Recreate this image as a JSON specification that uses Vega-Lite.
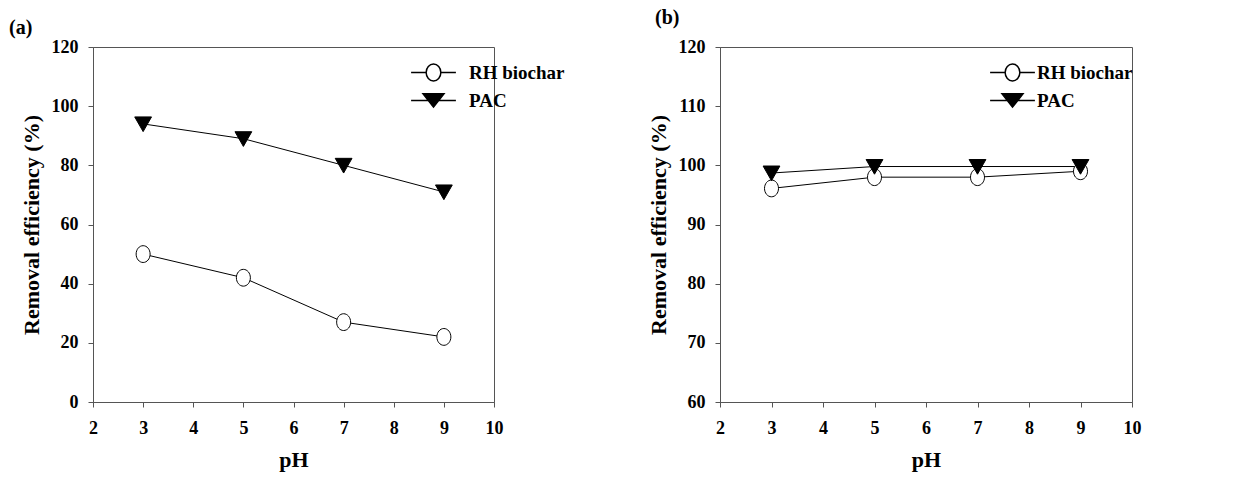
{
  "$schema": "https://vega.github.io/schema/vega-lite/v6.json",
  "padding": {"left": 8, "top": 7, "right": 5, "bottom": 5},
  "background": "white",
  "datasets": {
    "a": [
      {"series": "RH biochar", "pH": 3, "removal": 50},
      {"series": "RH biochar", "pH": 5, "removal": 42},
      {"series": "RH biochar", "pH": 7, "removal": 27},
      {"series": "RH biochar", "pH": 9, "removal": 22},
      {"series": "PAC", "pH": 3, "removal": 94},
      {"series": "PAC", "pH": 5, "removal": 89},
      {"series": "PAC", "pH": 7, "removal": 80},
      {"series": "PAC", "pH": 9, "removal": 71}
    ],
    "b": [
      {"series": "RH biochar", "pH": 3, "removal": 96.1},
      {"series": "RH biochar", "pH": 5, "removal": 98},
      {"series": "RH biochar", "pH": 7, "removal": 98},
      {"series": "RH biochar", "pH": 9, "removal": 99},
      {"series": "PAC", "pH": 3, "removal": 98.7},
      {"series": "PAC", "pH": 5, "removal": 99.8},
      {"series": "PAC", "pH": 7, "removal": 99.8},
      {"series": "PAC", "pH": 9, "removal": 99.8}
    ]
  },
  "spacing": 80,
  "hconcat": [
    {
      "width": 401,
      "height": 355,
      "title": {"text": "(a)", "anchor": "start", "frame": "group", "dx": -84, "offset": 0, "fontSize": 20, "font": "Liberation Serif", "fontWeight": "bold", "color": "black"},
      "data": {"name": "a"},
      "resolve": {"scale": {"shape": "independent", "fill": "independent"}},
      "layer": [
        {
          "mark": {"type": "line", "color": "black", "strokeWidth": 1},
          "encoding": {
            "x": {"field": "pH", "type": "quantitative", "scale": {"domain": [2, 10], "nice": false}, "axis": {"values": [2,3,4,5,6,7,8,9,10], "title": "pH"}},
            "y": {"field": "removal", "type": "quantitative", "scale": {"domain": [0, 120], "nice": false}, "axis": {"values": [0,20,40,60,80,100,120], "title": "Removal efficiency (%)"}},
            "detail": {"field": "series"}
          }
        },
        {
          "mark": {"type": "point", "filled": true, "stroke": "black", "strokeWidth": 1, "opacity": 1, "size": 196},
          "encoding": {
            "x": {"field": "pH", "type": "quantitative"},
            "y": {"field": "removal", "type": "quantitative"},
            "shape": {"field": "series", "type": "nominal", "scale": {"domain": ["RH biochar", "PAC"], "range": ["M1,0A1,1.2,0,1,1,-1,0A1,1.2,0,1,1,1,0Z", "M-1.2,-1L1.2,-1L0,1.1Z"]}, "legend": null},
            "fill": {"field": "series", "type": "nominal", "scale": {"domain": ["RH biochar", "PAC"], "range": ["white", "black"]}, "legend": null}
          }
        },
        {
          "mark": {"type": "point", "filled": true, "stroke": "black", "strokeWidth": 1, "opacity": 0},
          "encoding": {
            "x": {"field": "pH", "type": "quantitative"},
            "y": {"field": "removal", "type": "quantitative"},
            "shape": {"field": "series", "type": "nominal", "scale": {"domain": ["RH biochar", "PAC"], "range": ["M-3.2,0L-1.05,0M1.05,0L3.2,0M1.05,0A1.05,1.2,0,1,1,-1.05,0A1.05,1.2,0,1,1,1.05,0Z", "M-3.2,0L3.2,0M-1.5,-0.95L1.5,-0.95L0,0.95Z"]},
              "legend": {"title": null, "orient": "none", "legendX": 331, "legendY": 16, "symbolSize": 196, "symbolOpacity": 1, "labelOffset": 26, "rowPadding": 6, "labelFont": "Liberation Serif", "labelFontWeight": "bold", "labelFontSize": 19, "labelColor": "black",
                "encode": {"symbols": {"update": {"stroke": {"value": "black"}, "strokeWidth": {"value": 1}, "opacity": {"value": 1}}}}}},
            "fill": {"field": "series", "type": "nominal", "scale": {"domain": ["RH biochar", "PAC"], "range": ["white", "black"]},
              "legend": {"title": null, "orient": "none", "legendX": 331, "legendY": 16, "symbolSize": 196, "symbolOpacity": 1, "labelOffset": 26, "rowPadding": 6, "labelFont": "Liberation Serif", "labelFontWeight": "bold", "labelFontSize": 19, "labelColor": "black",
                "encode": {"symbols": {"update": {"stroke": {"value": "black"}, "strokeWidth": {"value": 1}, "opacity": {"value": 1}}}}}}
          }
        }
      ]
    },
    {
      "width": 412,
      "height": 355,
      "title": {"text": "(b)", "anchor": "start", "frame": "group", "dx": -65, "offset": 10, "fontSize": 20, "font": "Liberation Serif", "fontWeight": "bold", "color": "black"},
      "data": {"name": "b"},
      "resolve": {"scale": {"shape": "independent", "fill": "independent"}},
      "layer": [
        {
          "mark": {"type": "line", "color": "black", "strokeWidth": 1},
          "encoding": {
            "x": {"field": "pH", "type": "quantitative", "scale": {"domain": [2, 10], "nice": false}, "axis": {"values": [2,3,4,5,6,7,8,9,10], "title": "pH"}},
            "y": {"field": "removal", "type": "quantitative", "scale": {"domain": [60, 120], "nice": false, "zero": false}, "axis": {"values": [60,70,80,90,100,110,120], "title": "Removal efficiency (%)"}},
            "detail": {"field": "series"}
          }
        },
        {
          "mark": {"type": "point", "filled": true, "stroke": "black", "strokeWidth": 1, "opacity": 1, "size": 196},
          "encoding": {
            "x": {"field": "pH", "type": "quantitative"},
            "y": {"field": "removal", "type": "quantitative"},
            "shape": {"field": "series", "type": "nominal", "scale": {"domain": ["RH biochar", "PAC"], "range": ["M1,0A1,1.2,0,1,1,-1,0A1,1.2,0,1,1,1,0Z", "M-1.2,-1L1.2,-1L0,1.1Z"]}, "legend": null},
            "fill": {"field": "series", "type": "nominal", "scale": {"domain": ["RH biochar", "PAC"], "range": ["white", "black"]}, "legend": null}
          }
        },
        {
          "mark": {"type": "point", "filled": true, "stroke": "black", "strokeWidth": 1, "opacity": 0},
          "encoding": {
            "x": {"field": "pH", "type": "quantitative"},
            "y": {"field": "removal", "type": "quantitative"},
            "shape": {"field": "series", "type": "nominal", "scale": {"domain": ["RH biochar", "PAC"], "range": ["M-3.2,0L-1.05,0M1.05,0L3.2,0M1.05,0A1.05,1.2,0,1,1,-1.05,0A1.05,1.2,0,1,1,1.05,0Z", "M-3.2,0L3.2,0M-1.5,-0.95L1.5,-0.95L0,0.95Z"]},
              "legend": {"title": null, "orient": "none", "legendX": 283, "legendY": 16, "symbolSize": 196, "symbolOpacity": 1, "labelOffset": 15, "rowPadding": 6, "labelFont": "Liberation Serif", "labelFontWeight": "bold", "labelFontSize": 19, "labelColor": "black",
                "encode": {"symbols": {"update": {"stroke": {"value": "black"}, "strokeWidth": {"value": 1}, "opacity": {"value": 1}}}}}},
            "fill": {"field": "series", "type": "nominal", "scale": {"domain": ["RH biochar", "PAC"], "range": ["white", "black"]},
              "legend": {"title": null, "orient": "none", "legendX": 283, "legendY": 16, "symbolSize": 196, "symbolOpacity": 1, "labelOffset": 15, "rowPadding": 6, "labelFont": "Liberation Serif", "labelFontWeight": "bold", "labelFontSize": 19, "labelColor": "black",
                "encode": {"symbols": {"update": {"stroke": {"value": "black"}, "strokeWidth": {"value": 1}, "opacity": {"value": 1}}}}}}
          }
        }
      ]
    }
  ],
  "config": {
    "view": {"stroke": "#555", "strokeWidth": 1},
    "axis": {
      "grid": false,
      "domainColor": "#555",
      "domainWidth": 1,
      "tickColor": "#555",
      "tickSize": 5,
      "labelFont": "Liberation Serif",
      "labelFontWeight": "bold",
      "labelFontSize": 18,
      "labelColor": "black",
      "titleFont": "Liberation Serif",
      "titleFontWeight": "bold",
      "titleFontSize": 22,
      "titleColor": "black"
    },
    "axisX": {"labelPadding": 12, "titlePadding": 12, "labelFlush": false},
    "axisY": {"labelPadding": 10, "titlePadding": 8}
  }
}
